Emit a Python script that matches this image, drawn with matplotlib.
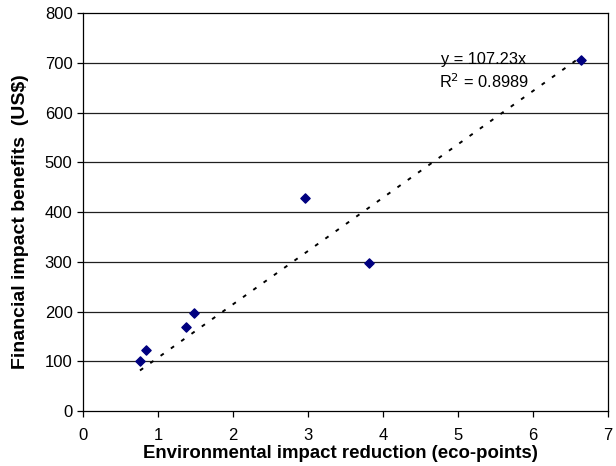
import numpy as np
import matplotlib.pyplot as plt

# data
eco_points = [0.76, 0.84, 1.37, 1.48, 2.96, 3.82, 6.64]
benefits_usd = [100, 122, 169, 198, 429, 298, 705]
slope = 107.23
r2 = 0.8989

plt.rcParams['font.family'] = ['Liberation Sans', 'DejaVu Sans']

fig = plt.figure(figsize=(6.16, 4.66), dpi=100)
ax = fig.add_axes([0.1347, 0.118, 0.8523, 0.854])

# horizontal grid
for yv in range(100, 800, 100):
    ax.axhline(yv, color='#202020', lw=0.9, zorder=1)

# linear trendline through origin
xt = np.array([min(eco_points), max(eco_points)])
ax.plot(xt, slope * xt, color='black', lw=1.4, dashes=(2.0, 4.5), zorder=2)

ax.scatter(eco_points, benefits_usd, marker='D', s=22, color='#000080', zorder=3)

ax.text(441 / 616, 1 - 59.5 / 466, 'y = 107.23x', transform=fig.transFigure,
        fontsize=11.8, va='center')
ax.text(439 / 616, 1 - 82 / 466, 'R$^2$ = %.4f' % r2, transform=fig.transFigure,
        fontsize=11.8, va='center')

ax.set_xlim(0, 7)
ax.set_ylim(0, 800)
ax.set_xticks(range(0, 8))
ax.set_yticks(range(0, 900, 100))
ax.tick_params(direction='out', length=4, width=0.9, labelsize=12)
ax.tick_params(axis='x', pad=8.5)
ax.tick_params(axis='y', pad=3.5)
for s in ax.spines.values():
    s.set_linewidth(0.9)

ax.set_xlabel('Environmental impact reduction (eco-points)', fontsize=13.4,
              fontweight='bold')
ax.set_ylabel('Financial impact benefits  (US$)', fontsize=14,
              fontweight='bold')
ax.xaxis.set_label_coords(0.491, -0.086)
ax.yaxis.set_label_coords(-0.102, 0.477)

fig.savefig('out.png', dpi=100)
